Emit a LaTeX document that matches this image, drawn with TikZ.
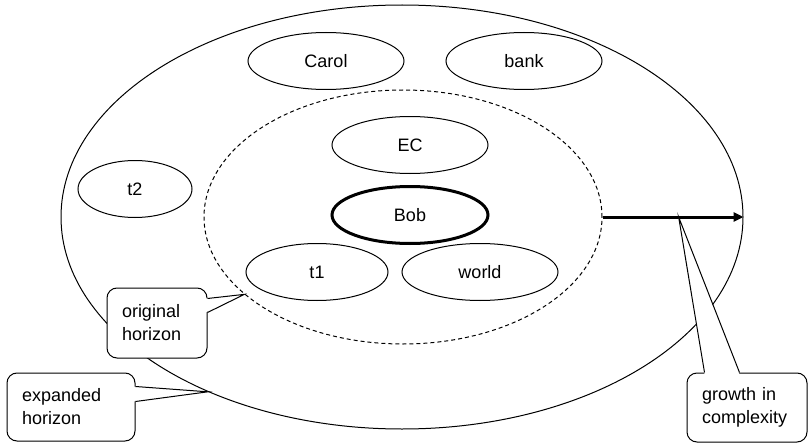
\documentclass[tikz,border=0pt]{standalone}
\usepackage{fontspec}
\setmainfont{Liberation Sans}
\usetikzlibrary{shapes.geometric,arrows.meta,calc}
\begin{document}
\begin{tikzpicture}[x=1pt,y=-1pt,
  every node/.style={font=\fontsize{18}{23}\selectfont},
  oval/.style={ellipse, draw, line width=1pt, minimum width=156pt, minimum height=57pt, inner sep=0pt},
  horizon/.style={ellipse, draw, line width=1pt, inner sep=0pt},
  bubble/.style={draw, fill=white, line width=1pt, rounded corners=10pt,
                 inner xsep=15pt, inner ysep=0pt, align=left},
  tail/.style={draw, line width=1pt, line join=miter}
]
\useasboundingbox (0,0) rectangle (809,444);

% the two horizons
\node[horizon, minimum width=682pt, minimum height=424pt] (outer) at (402,217) {};
\node[horizon, dashed, dash pattern=on 4pt off 3pt, minimum width=398pt, minimum height=254pt] (inner) at (403,217) {};

% entities
\node[oval] (carol) at (326,61) {Carol};
\node[oval] (bank) at (524,61) {bank};
\node[oval] (ec) at (410,145) {EC};
\node[oval, minimum width=114pt] (t2) at (135,189) {t2};
\node[oval, line width=3pt] (bob) at (410,215) {Bob};
\node[oval, minimum width=142pt] (t1) at (317,272) {t1};
\node[oval] (world) at (480,272) {world};

% growth arrow
\draw[line width=3pt, -{Triangle[length=10pt,width=9pt]}] (inner.east) -- (outer.east);

% pointer targets
\coordinate (otip) at (inner.206.3);
\coordinate (etip) at (outer.222.8);
\coordinate (gtip) at ($(inner.east)!0.54!(outer.east)$);

% callouts
\node[bubble, text width=70pt, minimum width=100pt, minimum height=70pt] (orig) at (157,323) {original\\horizon};
\node[bubble, text width=98pt, minimum width=128pt, minimum height=68pt] (expd) at (71,407) {expanded\\horizon};
\node[bubble, text width=90pt, minimum width=120pt, minimum height=69pt] (grow) at (747,407.5) {growth in\\complexity};

% callout tails
\fill[white] ($(orig.north east)+(-2,11)$) -- (otip) -- ($(orig.north east)+(-2,25)$) -- cycle;
\draw[tail] ($(orig.north east)+(0,11)$) -- (otip) -- ($(orig.north east)+(0,25)$);

\fill[white] ($(expd.north east)+(-2,14)$) -- (etip) -- ($(expd.north east)+(-2,29)$) -- cycle;
\draw[tail] ($(expd.north east)+(0,14)$) -- (etip) -- ($(expd.north east)+(0,29)$);

\fill[white] ($(grow.north west)+(18,2)$) -- (gtip) -- ($(grow.north west)+(53,2)$) -- cycle;
\draw[tail] ($(grow.north west)+(18,0)$) -- (gtip) -- ($(grow.north west)+(53,0)$);
\end{tikzpicture}
\end{document}
